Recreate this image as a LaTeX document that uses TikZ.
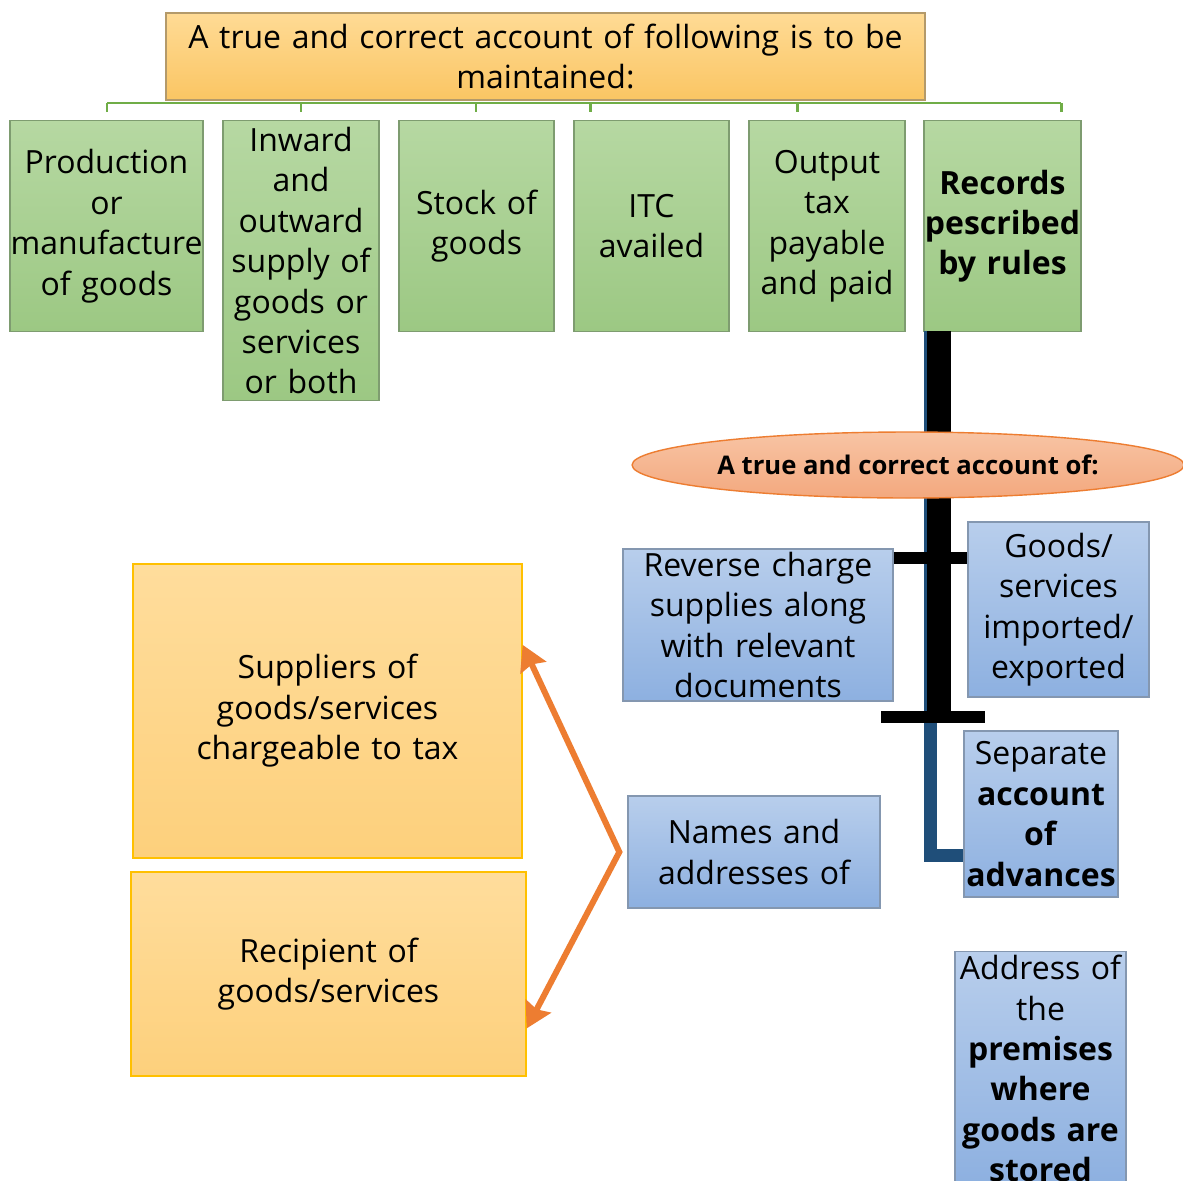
\documentclass[tikz,border=0pt]{standalone}
\usepackage{fontspec}
\setmainfont{Open Sans}
\usetikzlibrary{shapes.geometric,arrows.meta,calc}

\definecolor{greentop}{HTML}{B6D8A2}
\definecolor{greenbot}{HTML}{9CC883}
\definecolor{greenedge}{HTML}{7E9C70}
\definecolor{twiggreen}{HTML}{70AD47}
\definecolor{bluetop}{HTML}{B8CEEC}
\definecolor{bluebot}{HTML}{8DB0E0}
\definecolor{blueedge}{HTML}{8497B0}
\definecolor{yeltop}{HTML}{FFDD9C}
\definecolor{yelbot}{HTML}{FDD07C}
\definecolor{yeledge}{HTML}{FFC000}
\definecolor{hdtop}{HTML}{FFDB95}
\definecolor{hdbot}{HTML}{FAC563}
\definecolor{hdedge}{HTML}{B49A6A}
\definecolor{saltop}{HTML}{F8C4A4}
\definecolor{salbot}{HTML}{F3A87E}
\definecolor{saledge}{HTML}{ED7D31}
\definecolor{arroworange}{HTML}{ED7D31}
\definecolor{stemblue}{HTML}{1F4E79}

\begin{document}
\begin{tikzpicture}[x=0.02cm, y=-0.02cm,
    every node/.style={font=\fontsize{18.2}{23}\selectfont, align=center, inner sep=0pt},
    greenbox/.style={draw=greenedge, line width=0.8pt, top color=greentop, bottom color=greenbot, anchor=north, minimum height=4.22cm},
    bluebox/.style={draw=blueedge, line width=0.8pt, top color=bluetop, bottom color=bluebot},
    yellowbox/.style={draw=yeledge, line width=0.8pt, top color=yeltop, bottom color=yelbot},
    headbox/.style={draw=hdedge, line width=0.8pt, top color=hdtop, bottom color=hdbot},
    oval/.style={ellipse, draw=saledge, line width=0.8pt, top color=saltop, bottom color=salbot, font=\fontsize{14.6}{17}\selectfont\bfseries},
    twig/.style={draw=twiggreen, line width=1.7pt},
    stem/.style={draw=stemblue, line width=0.26cm},
    bar/.style={draw=black, line width=0.48cm},
    crossbar/.style={draw=black, line width=0.24cm},
    fork arrow/.style={draw=arroworange, line width=0.12cm,
        {Stealth[length=0.5cm,width=0.56cm,inset=0.07cm]}-{Stealth[length=0.5cm,width=0.56cm,inset=0.07cm]}}
]
    \useasboundingbox (0,0) rectangle (1183,1180);
    \fill[white] (0,0) rectangle (1183,1180);

    % Heading box
    \node[headbox, text width=15.18cm, minimum height=1.74cm] (head) at (545.5,56.5)
        {A true and correct account of following is to be\\maintained:};

    % Green boxes of the first row
    \node[greenbox, text width=3.86cm] (prod) at (106.5,120) {Production\\or\\manufacture\\of goods};
    \node[greenbox, text width=3.12cm, minimum height=5.6cm] (inward) at (301,120)
        {Inward\\and\\outward\\supply of\\goods or\\services\\or both};
    \node[greenbox, text width=3.1cm] (stock) at (476.5,120) {Stock of\\goods};
    \node[greenbox, text width=3.1cm] (itc) at (651.5,120) {ITC\\availed};
    \node[greenbox, text width=3.12cm] (output) at (827,120) {Output\\tax\\payable\\and paid};
    \node[greenbox, text width=3.14cm] (rec) at (1002.5,120)
        {\textbf{Records}\\\textbf{pescribed}\\\textbf{by rules}};

    % Bracket under the heading
    \draw[twig] (107,103) -- (1061,103);
    \foreach \x in {107,301,476,590,797,1061}
        \draw[twig] (\x,103) -- (\x,112);

    % Blue boxes
    \node[bluebox, text width=5.4cm, minimum height=3.04cm] (rev) at (758,625)
        {Reverse charge\\supplies along\\with relevant\\documents};
    \node[bluebox, text width=3.62cm, minimum height=3.5cm] (goods) at (1058.5,609.5)
        {Goods/\\services\\imported/\\exported};
    \node[bluebox, text width=3.08cm, minimum height=3.32cm] (sep) at (1041,814)
        {Separate\\\textbf{account}\\\textbf{of}\\\textbf{advances}};
    \node[bluebox, text width=5.04cm, minimum height=2.24cm] (names) at (754,852)
        {Names and\\addresses of};
    \node[bluebox, text width=3.42cm, inner ysep=2pt, anchor=north] (addr) at (1040.5,951)
        {Address of\\the\\\textbf{premises}\\\textbf{where}\\\textbf{goods are}\\\textbf{stored}};

    % Yellow boxes
    \node[yellowbox, text width=7.78cm, minimum height=5.88cm] (sup) at (327.5,711)
        {Suppliers of\\goods/services\\chargeable to tax};
    \node[yellowbox, text width=7.9cm, minimum height=4.08cm] (rcp) at (328.5,974)
        {Recipient of\\goods/services};

    % Stem and bars below the records box
    \coordinate (stemtop) at (930.5,331);
    \coordinate (sepjoin) at ($(sep.north west)!0.75!(sep.south west)$);
    \draw[stem] (stemtop) |- (sepjoin);

    \coordinate (trunk) at (939,331);
    \coordinate (knotA) at (939,558);
    \coordinate (knotB) at (939,717);
    \draw[bar] (trunk) -- (knotB);
    \draw[crossbar] (rev.east |- knotA) -- (goods.west |- knotA);
    \draw[crossbar] ([xshift=-1.16cm]knotB) -- ([xshift=0.92cm]knotB);

    % Ellipse on top of the bar
    \node[oval, minimum width=11.04cm, minimum height=1.32cm] (acct) at (908,465)
        {A true and correct account of:};

    % Arrows to suppliers and recipients
    \coordinate (fork) at ([xshift=-0.16cm]names.west);
    \draw[fork arrow] ($(sup.north east)!0.276!(sup.south east)$) -- (fork)
        -- ($(rcp.north east)!0.765!(rcp.south east)$);
\end{tikzpicture}
\end{document}
